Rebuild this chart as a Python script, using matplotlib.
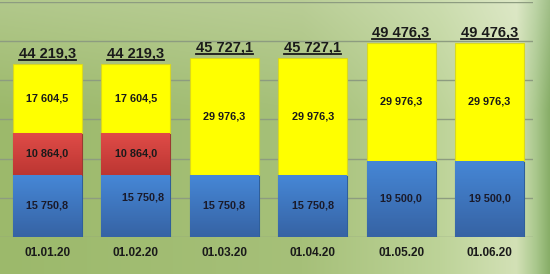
import numpy as np
import matplotlib
matplotlib.use("Agg")
import matplotlib.pyplot as plt
from matplotlib.colors import to_rgb, LinearSegmentedColormap
from matplotlib.lines import Line2D

plt.rcParams["font.family"] = ["Liberation Sans", "DejaVu Sans"]

# data
dates = ["01.01.20", "01.02.20", "01.03.20", "01.04.20", "01.05.20", "01.06.20"]
blue_vals = [15750.8, 15750.8, 15750.8, 15750.8, 19500.0, 19500.0]
red_vals = [10864.0, 10864.0, 0.0, 0.0, 0.0, 0.0]
yellow_vals = [17604.5, 17604.5, 29976.3, 29976.3, 29976.3, 29976.3]
totals = [44219.3, 44219.3, 45727.1, 45727.1, 49476.3, 49476.3]


def fmt(v):
    # "44 219,3" style
    s = f"{v:,.1f}"
    return s.replace(",", " ").replace(".", ",")


def lerp(c1, c2, t):
    c1, c2 = np.array(to_rgb(c1)), np.array(to_rgb(c2))
    return c1 + (c2 - c1) * t


W, H = 550, 274
fig = plt.figure(figsize=(W / 100, H / 100), dpi=100)

# background: green, lighter band towards the right, lighter at the top
bg_ax = fig.add_axes([0, 0, 1, 1])
bg_ax.set_axis_off()
xs = np.linspace(0, 1, W)
stops = [(0.0, "#9cb96b"), (0.55, "#a6c079"), (0.80, "#bdd398"),
         (0.94, "#d3e1b6"), (0.975, "#aac88d"), (1.0, "#88ae68")]
row = np.zeros((W, 3))
for i, xv in enumerate(xs):
    for (p0, c0), (p1, c1) in zip(stops[:-1], stops[1:]):
        if p0 <= xv <= p1:
            row[i] = lerp(c0, c1, (xv - p0) / (p1 - p0))
            break
ys = np.linspace(0, 1, H)[:, None, None]
light = np.clip(0.22 * (1 - ys / 0.4), 0, None)
img = row[None, :, :] * (1 - light) + light
bg_ax.imshow(img, aspect="auto", extent=[0, 1, 0, 1], origin="upper")
bg_ax.set_xlim(0, 1)
bg_ax.set_ylim(0, 1)

ax = fig.add_axes([0, 37.3 / H, 533 / W, 234.4 / H])
ax.patch.set_alpha(0)
x = np.arange(len(dates))
bw = 0.78

grad = np.linspace(0, 1, 64)[:, None]


def grad_bars(bars, top, bottom):
    cmap = LinearSegmentedColormap.from_list("g", [bottom, top])
    for b in bars:
        if b.get_height() <= 0:
            continue
        x0, y0 = b.get_x(), b.get_y()
        im = ax.imshow(grad, cmap=cmap, aspect="auto", origin="lower",
                       extent=[x0, x0 + b.get_width(), y0, y0 + b.get_height()],
                       zorder=3)
        im.set_clip_path(b)


b_blue = ax.bar(x, blue_vals, bw, color="#3f7bc8", edgecolor="#2f5f9a", linewidth=0.8, zorder=2)
grad_bars(b_blue, "#4687d6", "#3663a4")
b_red = ax.bar(x, red_vals, bw, bottom=blue_vals, color="#cf3e3a", edgecolor="#9a3a30", linewidth=0.8, zorder=2)
grad_bars(b_red, "#e04c48", "#bc3632")
bottoms = np.array(blue_vals) + np.array(red_vals)
ax.bar(x, yellow_vals, bw, bottom=bottoms, color="#ffff00", edgecolor="#d8d820", linewidth=0.8, zorder=2)

# segment labels (second bar's blue label sits a bit off in the original)
offsets = {1: (5, 6)}
seg_fs = 7.8
tot_texts = []
for i in range(len(dates)):
    dx, dy = offsets.get(i, (0, 0))
    ax.annotate(fmt(blue_vals[i]), (x[i], blue_vals[i] / 2), xytext=(dx, dy),
                textcoords="offset points", ha="center", va="center",
                fontsize=seg_fs, fontweight="bold", color="#1a1a2a", zorder=5)
    if red_vals[i] > 0:
        ax.text(x[i], blue_vals[i] + red_vals[i] / 2, fmt(red_vals[i]), ha="center", va="center",
                fontsize=seg_fs, fontweight="bold", color="#1a1a1a", zorder=5)
    ax.text(x[i], bottoms[i] + yellow_vals[i] / 2, fmt(yellow_vals[i]), ha="center", va="center",
            fontsize=seg_fs, fontweight="bold", color="#1a1a1a", zorder=5)
    t = ax.annotate(fmt(totals[i]), (x[i], totals[i]), xytext=(0, 2.5), textcoords="offset points",
                    ha="center", va="bottom", fontsize=10.5, fontweight="bold", color="#1a1a1a",
                    zorder=5)
    tot_texts.append(t)

ax.set_ylim(0, 60000)
ax.set_xlim(-0.537, 5.492)
ax.set_yticks(np.arange(0, 60001, 10000))
ax.yaxis.grid(True, color="#8d9c80", linewidth=1.0, zorder=0)
ax.set_axisbelow(True)
ax.tick_params(axis="y", left=False, labelleft=False)
ax.set_xticks(x)
ax.set_xticklabels(dates, fontsize=8.5, fontweight="bold", color="#1a1a1a")
ax.tick_params(axis="x", length=0, pad=7.5)
for s in ax.spines.values():
    s.set_visible(False)

# underline the totals
fig.canvas.draw()
r = fig.canvas.get_renderer()
for t in tot_texts:
    bb = t.get_window_extent(r)
    yy = bb.y0 + 0.5
    fig.add_artist(Line2D([bb.x0 / W, bb.x1 / W], [yy / H, yy / H], color="#1a1a1a",
                          linewidth=1.3, zorder=6))

fig.savefig("out.png", dpi=100)
